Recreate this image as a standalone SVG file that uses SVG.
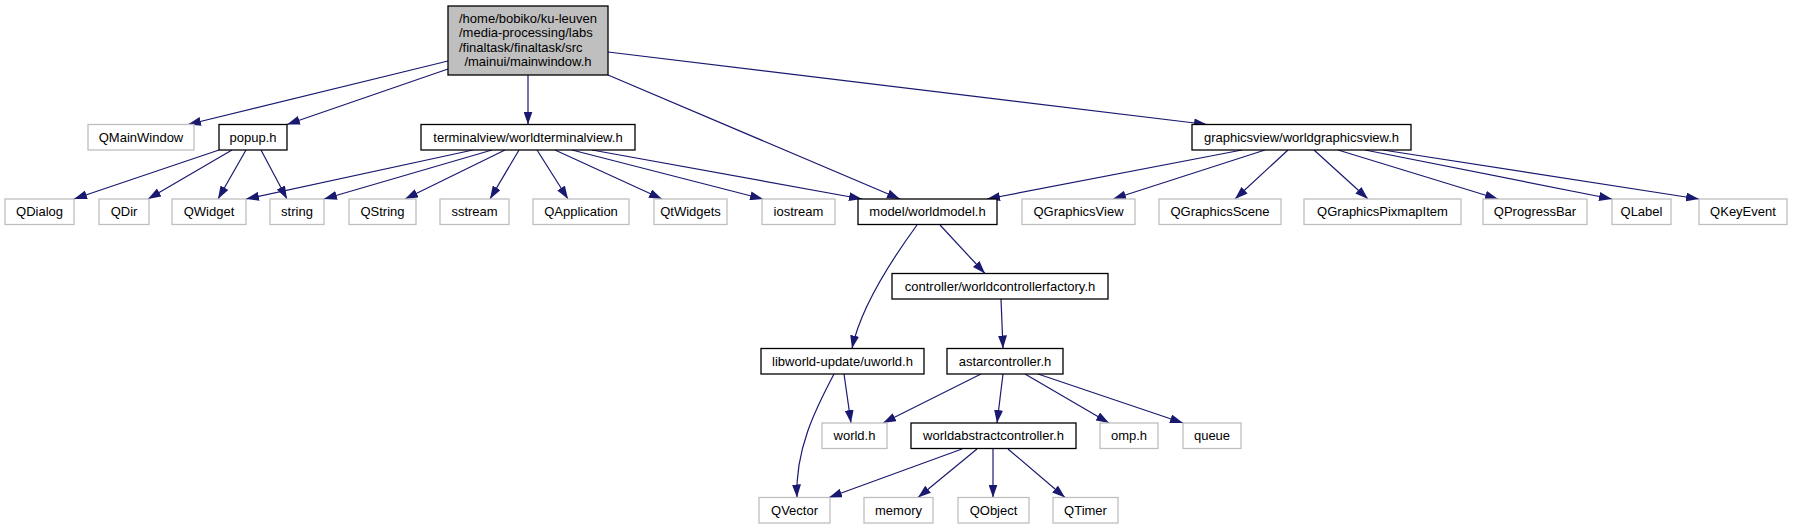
<svg xmlns="http://www.w3.org/2000/svg" width="1794" height="529" viewBox="0 0 1794 529">
<style>
text{font-family:"Liberation Sans",Arial,Helvetica,sans-serif;font-size:13px;fill:#000;text-anchor:middle}
.d{fill:#fff;stroke:#000;stroke-width:1.3}
.u{fill:#fff;stroke:#bfbfbf;stroke-width:1.3}
.m{fill:#bfbfbf;stroke:#000;stroke-width:1.3}
.e{fill:none;stroke:#191970;stroke-width:1.2;marker-end:url(#a)}
</style>
<defs>
<marker id="a" viewBox="0 0 13 9" refX="13" refY="4.5" markerWidth="13" markerHeight="9" markerUnits="userSpaceOnUse" orient="auto">
<path d="M0,0 L13,4.5 L0,9 z" fill="#191970"/>
</marker>
</defs>
<rect width="1794" height="529" fill="#fff"/>
<g id="edges">
<path class="e" d="M448,61 L188,124.5"/>
<path class="e" d="M448,69 L287,124.5"/>
<path class="e" d="M528,75 L528,124.5"/>
<path class="e" d="M608,75 L900,199"/>
<path class="e" d="M608,52 L1207,124.5"/>
<path class="e" d="M219,150 L74,199"/>
<path class="e" d="M232,150 L148,199"/>
<path class="e" d="M246,150 L218,199"/>
<path class="e" d="M261,150 L287,199"/>
<path class="e" d="M473,150 L246,199"/>
<path class="e" d="M492,150 L324,199"/>
<path class="e" d="M505,150 L405,199"/>
<path class="e" d="M519,150 L490,199"/>
<path class="e" d="M537,150 L568,199"/>
<path class="e" d="M555,150 L662,199"/>
<path class="e" d="M572,150 L763,199"/>
<path class="e" d="M592,150 L862,199"/>
<path class="e" d="M1242,150 L987,199"/>
<path class="e" d="M1265,150 L1113,199"/>
<path class="e" d="M1288,150 L1235,199"/>
<path class="e" d="M1314,150 L1368,199"/>
<path class="e" d="M1338,150 L1498,199"/>
<path class="e" d="M1365,150 L1612,199"/>
<path class="e" d="M1383,150 L1699,199"/>
<path class="e" d="M940,225 L985,273.5"/>
<path class="e" d="M917,225 C890,262 860,310 852,348.5"/>
<path class="e" d="M1001,299 L1003,348.5"/>
<path class="e" d="M844,374 L851,423"/>
<path class="e" d="M834,374 C815,410 795,450 797,497.5"/>
<path class="e" d="M981,374 L883,423"/>
<path class="e" d="M1003,374 L997,423"/>
<path class="e" d="M1025,374 L1109,423"/>
<path class="e" d="M1038,374 L1183,423"/>
<path class="e" d="M962,449 L829,497.5"/>
<path class="e" d="M977,449 L918,497.5"/>
<path class="e" d="M993,449 L993,497.5"/>
<path class="e" d="M1008,449 L1065,497.5"/>
</g>
<g id="n_main"><rect class="m" x="448" y="6" width="160" height="69"/>
<text x="459" y="22.5" style="text-anchor:start">/home/bobiko/ku-leuven</text>
<text x="459" y="37" style="text-anchor:start">/media-processing/labs</text>
<text x="459" y="51.5" style="text-anchor:start">/finaltask/finaltask/src</text>
<text x="528" y="66">/mainui/mainwindow.h</text></g>
<g id="n_qmainwindow"><rect class="u" x="88" y="124.5" width="106" height="25.5"/><text x="141" y="141.5">QMainWindow</text></g>
<g id="n_popup"><rect class="d" x="219" y="124.5" width="68" height="25.5"/><text x="253" y="141.5">popup.h</text></g>
<g id="n_terminalview"><rect class="d" x="421" y="124.5" width="214" height="25.5"/><text x="528" y="141.5">terminalview/worldterminalview.h</text></g>
<g id="n_graphicsview"><rect class="d" x="1192" y="124.5" width="219" height="25.5"/><text x="1301.5" y="141.5">graphicsview/worldgraphicsview.h</text></g>
<g id="n_qdialog"><rect class="u" x="5" y="199" width="69" height="25.5"/><text x="39.5" y="216">QDialog</text></g>
<g id="n_qdir"><rect class="u" x="99" y="199" width="50" height="25.5"/><text x="124" y="216">QDir</text></g>
<g id="n_qwidget"><rect class="u" x="172" y="199" width="74" height="25.5"/><text x="209" y="216">QWidget</text></g>
<g id="n_string"><rect class="u" x="270" y="199" width="54" height="25.5"/><text x="297" y="216">string</text></g>
<g id="n_qstring"><rect class="u" x="349" y="199" width="67" height="25.5"/><text x="382.5" y="216">QString</text></g>
<g id="n_sstream"><rect class="u" x="440" y="199" width="69" height="25.5"/><text x="474.5" y="216">sstream</text></g>
<g id="n_qapplication"><rect class="u" x="533" y="199" width="96" height="25.5"/><text x="581" y="216">QApplication</text></g>
<g id="n_qtwidgets"><rect class="u" x="654" y="199" width="73" height="25.5"/><text x="690.5" y="216">QtWidgets</text></g>
<g id="n_iostream"><rect class="u" x="762" y="199" width="73" height="25.5"/><text x="798.5" y="216">iostream</text></g>
<g id="n_worldmodel"><rect class="d" x="858" y="199" width="139" height="25.5"/><text x="927.5" y="216">model/worldmodel.h</text></g>
<g id="n_qgraphicsview"><rect class="u" x="1022" y="199" width="113" height="25.5"/><text x="1078.5" y="216">QGraphicsView</text></g>
<g id="n_qgraphicsscene"><rect class="u" x="1159" y="199" width="122" height="25.5"/><text x="1220" y="216">QGraphicsScene</text></g>
<g id="n_qgraphicspixmapitem"><rect class="u" x="1304" y="199" width="157" height="25.5"/><text x="1382.5" y="216">QGraphicsPixmapItem</text></g>
<g id="n_qprogressbar"><rect class="u" x="1483" y="199" width="104" height="25.5"/><text x="1535" y="216">QProgressBar</text></g>
<g id="n_qlabel"><rect class="u" x="1612" y="199" width="59" height="25.5"/><text x="1641.5" y="216">QLabel</text></g>
<g id="n_qkeyevent"><rect class="u" x="1699" y="199" width="88" height="25.5"/><text x="1743" y="216">QKeyEvent</text></g>
<g id="n_controllerfactory"><rect class="d" x="892" y="273.5" width="216" height="25.5"/><text x="1000" y="290.5">controller/worldcontrollerfactory.h</text></g>
<g id="n_uworld"><rect class="d" x="761" y="348.5" width="163" height="25.5"/><text x="842.5" y="365.5">libworld-update/uworld.h</text></g>
<g id="n_astarcontroller"><rect class="d" x="947" y="348.5" width="116" height="25.5"/><text x="1005" y="365.5">astarcontroller.h</text></g>
<g id="n_world"><rect class="u" x="822" y="423" width="65" height="25.5"/><text x="854.5" y="440">world.h</text></g>
<g id="n_worldabstractcontroller"><rect class="d" x="911" y="423" width="165" height="25.5"/><text x="993.5" y="440">worldabstractcontroller.h</text></g>
<g id="n_omp"><rect class="u" x="1100" y="423" width="58" height="25.5"/><text x="1129" y="440">omp.h</text></g>
<g id="n_queue"><rect class="u" x="1183" y="423" width="58" height="25.5"/><text x="1212" y="440">queue</text></g>
<g id="n_qvector"><rect class="u" x="759" y="497.5" width="71" height="25.5"/><text x="794.5" y="514.5">QVector</text></g>
<g id="n_memory"><rect class="u" x="864" y="497.5" width="69" height="25.5"/><text x="898.5" y="514.5">memory</text></g>
<g id="n_qobject"><rect class="u" x="958" y="497.5" width="71" height="25.5"/><text x="993.5" y="514.5">QObject</text></g>
<g id="n_qtimer"><rect class="u" x="1053" y="497.5" width="65" height="25.5"/><text x="1085.5" y="514.5">QTimer</text></g>
</svg>
